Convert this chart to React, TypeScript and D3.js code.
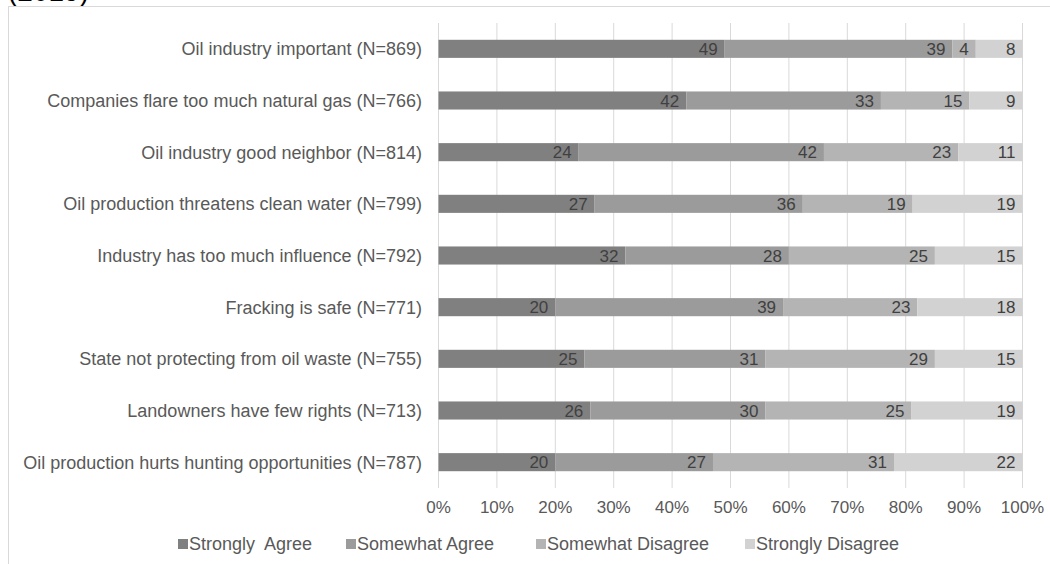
import React from "react";
import * as d3 from "d3";

const categories = [
  "Oil industry important (N=869)",
  "Companies flare too much natural gas (N=766)",
  "Oil industry good neighbor (N=814)",
  "Oil production threatens clean water (N=799)",
  "Industry has too much influence (N=792)",
  "Fracking is safe (N=771)",
  "State not protecting from oil waste (N=755)",
  "Landowners have few rights (N=713)",
  "Oil production hurts hunting opportunities (N=787)",
];

const seriesNames = ["Strongly  Agree", "Somewhat Agree", "Somewhat Disagree", "Strongly Disagree"];

const stronglyAgree = [49, 42, 24, 27, 32, 20, 25, 26, 20];
const somewhatAgree = [39, 33, 42, 36, 28, 39, 31, 30, 27];
const somewhatDisagree = [4, 15, 23, 19, 25, 23, 29, 25, 31];
const stronglyDisagree = [8, 9, 11, 19, 15, 18, 15, 19, 22];

const tickValues = [0, 0.1, 0.2, 0.3, 0.4, 0.5, 0.6, 0.7, 0.8, 0.9, 1.0];

const colors = ["#808080", "#9b9b9b", "#b4b4b4", "#d2d2d2"];

const W = 1050;
const H = 564;
const left = 438.5;
const right = 1022.5;
const top = 23;
const bottom = 488;

export default function App() {
  const series = [stronglyAgree, somewhatAgree, somewhatDisagree, stronglyDisagree];
  const rows = categories.map((c, i) => {
    const r: any = { cat: c };
    series.forEach((s, j) => (r["s" + j] = s[i]));
    return r;
  });
  const keys = ["s0", "s1", "s2", "s3"];
  const stacked = d3
    .stack()
    .keys(keys)
    .offset(d3.stackOffsetExpand)(rows as any);

  const x = d3.scaleLinear().domain([0, 1]).range([left, right]);
  const y = d3.scaleBand().domain(categories).range([top, bottom]).paddingInner(0.65).paddingOuter(0.325);
  const font = "'Liberation Sans', Arial, sans-serif";

  const legendX = [178, 346, 536, 745];

  return (
    <svg
      width={W}
      height={H}
      style={{ position: "absolute", left: 0, top: 0, background: "#fff" }}
      fontFamily={font}
    >
      <rect x={0} y={0} width={W} height={H} fill="#fff" />
      <text x={8} y={1} fontSize={28} fill="#000" fontFamily={font}>
        (2019)
      </text>
      <rect x={8.5} y={6.5} width={W + 10} height={H + 10} fill="none" stroke="#d9d9d9" strokeWidth={1} />
      {tickValues.map((t) => (
        <line key={t} x1={x(t)} x2={x(t)} y1={top} y2={bottom} stroke="#d9d9d9" strokeWidth={1} />
      ))}
      {stacked.map((layer, j) => (
        <g key={j}>
          {layer.map((d: any, i: number) => (
            <rect
              key={i}
              x={x(d[0])}
              width={x(d[1]) - x(d[0])}
              y={y(categories[i])!}
              height={y.bandwidth()}
              fill={colors[j]}
            />
          ))}
          {layer.map((d: any, i: number) => (
            <text
              key={"t" + i}
              x={x(d[1]) - 7}
              y={y(categories[i])! + y.bandwidth() / 2}
              dy="0.36em"
              textAnchor="end"
              fontSize={17}
              fill="#404040"
            >
              {series[j][i]}
            </text>
          ))}
        </g>
      ))}
      {categories.map((c) => (
        <text
          key={c}
          x={422}
          y={y(c)! + y.bandwidth() / 2}
          dy="0.36em"
          textAnchor="end"
          fontSize={18}
          fill="#595959"
        >
          {c}
        </text>
      ))}
      {tickValues.map((t) => (
        <text key={"l" + t} x={x(t)} y={507} dy="0.36em" textAnchor="middle" fontSize={17} fill="#595959">
          {d3.format(".0%")(t)}
        </text>
      ))}
      {seriesNames.map((n, j) => (
        <g key={n}>
          <rect x={legendX[j]} y={539} width={10} height={10} fill={colors[j]} />
          <text
            x={legendX[j] + 11}
            y={544}
            dy="0.36em"
            fontSize={18}
            fill="#595959"
            xmlSpace="preserve"
            style={{ whiteSpace: "pre" }}
          >
            {n}
          </text>
        </g>
      ))}
    </svg>
  );
}
